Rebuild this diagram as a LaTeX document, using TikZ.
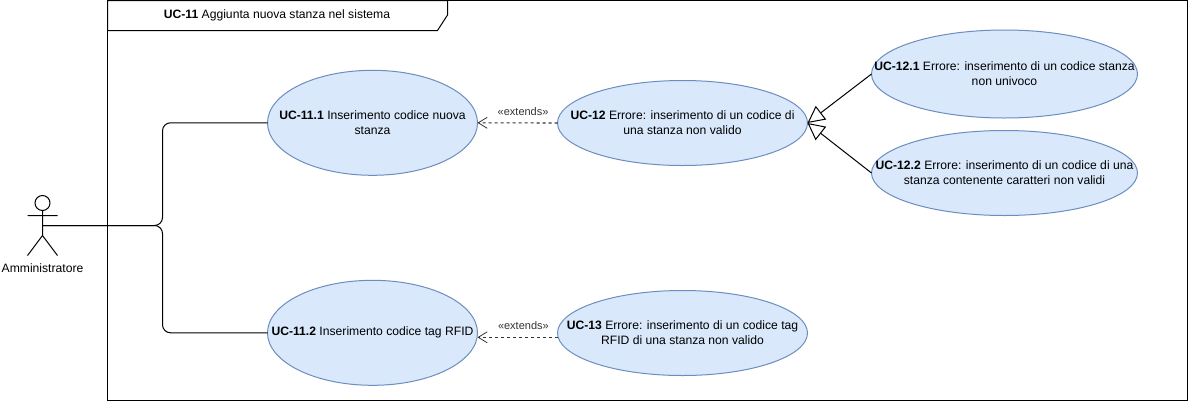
\documentclass[tikz,border=0pt]{standalone}
\usepackage{fontspec}
\setmainfont{Liberation Sans}
\usetikzlibrary{shapes.geometric,arrows.meta}
\definecolor{ucfill}{HTML}{DAE8FC}
\definecolor{ucline}{HTML}{6C8EBF}
\tikzset{
  x=1pt,y=-1pt,
  every node/.style={font=\fontsize{12.15}{15}\selectfont},
  every label/.style={align=center,inner sep=0pt},
  usecase/.style={ellipse,draw=ucline,fill=ucfill,line width=1pt,inner sep=0pt,outer sep=0pt,
    minimum width=#1},
  edge line/.style={line width=1pt,black},
  extendsarrow/.style={line width=1.1pt,dash pattern=on 3pt off 3pt,draw=black!80,-{Straight Barb[length=9pt,width=11pt,line width=.8pt]}},
  generalize/.style={line width=1pt,black,-{Triangle[open,length=17pt,width=17pt,fill=white]}},
  stereo/.style={font=\fontsize{11}{13}\selectfont,text=black!80,inner sep=0pt},
}
\begin{document}
\begin{tikzpicture}
\useasboundingbox (0,0) rectangle (1188,402);
\fill[white] (0,0) rectangle (1188,402);
% frame
\draw[line width=1pt] (107.5,0.5) rectangle (1187,400.5);
\draw[line width=1pt] (107.5,0.5) -- (447.5,0.5) -- (447.5,15) -- (437.5,30.5) -- (107.5,30.5) -- cycle;
\node[inner sep=0pt] (title) at (277,15.5) {\textbf{UC-11} Aggiunta nuova stanza nel sistema};
% actor
\node[circle,draw,line width=1pt,minimum size=15pt,inner sep=0pt] (head) at (42.5,203) {};
\coordinate (hip) at (42.5,235.5);
\coordinate (armL) at (27.5,215.5);
\coordinate (armR) at (57.5,215.5);
\coordinate (footL) at (27.5,255.5);
\coordinate (footR) at (57.5,255.5);
\coordinate (actorc) at (42.5,225.5);
\coordinate (bus) at (162.5,225.5);
\draw[edge line] (head.south) -- (hip) (armL) -- (armR) (footL) -- (hip) -- (footR);
\node[inner sep=0pt] (actorlabel) at (42.5,268.5) {Amministratore};
% use cases
\node[usecase=210pt,minimum height=105pt,label={center:{\textbf{UC-11.1} Inserimento codice nuova\\stanza}}] (u111) at (372.5,122.8) {};
\node[usecase=210pt,minimum height=105pt,label={center:{\textbf{UC-11.2} Inserimento codice tag RFID}}] (u112) at (372.5,332.8) {};
\node[usecase=250pt,minimum height=85pt,label={center:{\textbf{UC-12} Errore: inserimento di un codice di\\una stanza non valido}}] (u12) at (682.5,123) {};
\node[usecase=250pt,minimum height=85pt,label={center:{\textbf{UC-13} Errore: inserimento di un codice tag\\RFID di una stanza non valido}}] (u13) at (682.5,333) {};
\node[usecase=266pt,minimum height=88pt,label={center:{\textbf{UC-12.1} Errore: inserimento di un codice stanza\\non univoco}}] (u121) at (1004.5,74) {};
\node[usecase=266pt,minimum height=85pt,label={center:{\textbf{UC-12.2} Errore: inserimento di un codice di una\\stanza contenente caratteri non validi}}] (u122) at (1004.5,173) {};
% connectors
\coordinate (x13a) at (558,337.3);
\coordinate (x13b) at (477.5,337.3);
\draw[edge line,rounded corners=8pt] (actorc) -- (bus) |- (u111.west);
\draw[edge line,rounded corners=8pt] (actorc) -- (bus) |- (u112.west);
\draw[extendsarrow] (u12.west) -- node[stereo,pos=.43,yshift=11.5pt] (x1) {«extends»} (u111.east);
\draw[extendsarrow] (x13a) -- node[stereo,pos=.43,yshift=11.3pt] (x2) {«extends»} (x13b);
\draw[generalize] (u121.west) -- (u12.east);
\draw[generalize] (u122.west) -- (u12.east);
\end{tikzpicture}
\end{document}
